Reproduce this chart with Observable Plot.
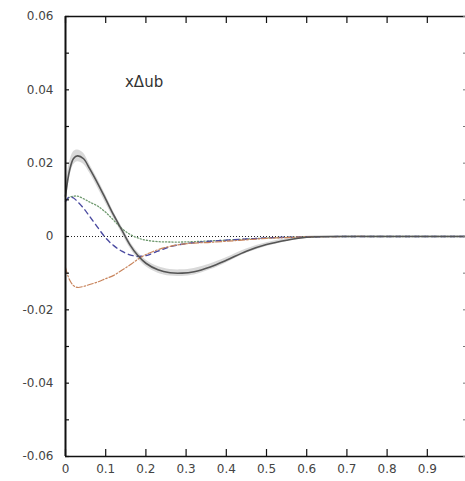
<!DOCTYPE html>
<html>
<head>
<meta charset="utf-8">
<script src="https://cdn.jsdelivr.net/npm/d3@7"></script>
<script src="https://cdn.jsdelivr.net/npm/@observablehq/plot@0.6"></script>
<style>
  html, body { margin: 0; padding: 0; background: #fff; }
  #chart svg { display: block; }
</style>
</head>
<body>
<div id="chart"></div>
<script>
const xs        = [0, 0.01, 0.02, 0.03, 0.045, 0.06, 0.08, 0.1, 0.12, 0.14, 0.16, 0.18, 0.2, 0.23, 0.26, 0.29, 0.32, 0.36, 0.4, 0.45, 0.5, 0.55, 0.6, 0.7, 0.8, 0.9, 1.0];
const total     = [0.011, 0.018, 0.0213, 0.022, 0.0212, 0.0185, 0.0145, 0.0102, 0.0058, 0.0018, -0.0022, -0.0052, -0.0073, -0.0091, -0.0099, -0.0100, -0.0096, -0.0083, -0.0065, -0.0040, -0.0022, -0.0010, -0.0002, 0, 0, 0, 0];
const band      = [0.003, 0.0022, 0.0018, 0.0016, 0.0015, 0.0012, 0.0012, 0.0011, 0.0009, 0.0009, 0.0009, 0.0009, 0.0009, 0.0009, 0.0009, 0.0009, 0.0009, 0.0008, 0.0007, 0.0006, 0.0005, 0.0004, 0.0003, 0.0002, 0.0002, 0.0002, 0.0002];
const dotted    = [0.0100, 0.0107, 0.0110, 0.0110, 0.0103, 0.0094, 0.0083, 0.0066, 0.0044, 0.0022, 0.0006, -0.0004, -0.0010, -0.0014, -0.0015, -0.0015, -0.0014, -0.0012, -0.0010, -0.0007, -0.0004, -0.0002, -0.0001, 0, 0, 0, 0];
const dashed    = [0.0095, 0.0108, 0.0105, 0.0095, 0.0077, 0.0055, 0.0025, -0.0004, -0.0025, -0.0040, -0.0050, -0.0054, -0.0052, -0.0040, -0.0028, -0.0021, -0.0017, -0.0013, -0.0010, -0.0007, -0.0004, -0.0002, -0.0001, 0, 0, 0, 0];
const dashdot   = [-0.0085, -0.0118, -0.0134, -0.0139, -0.0136, -0.0131, -0.0124, -0.0115, -0.0106, -0.0092, -0.0078, -0.0062, -0.0049, -0.0036, -0.0027, -0.0021, -0.0018, -0.0016, -0.0013, -0.0009, -0.0005, -0.0003, -0.0001, 0, 0, 0, 0];

const xTicks = [0, 0.1, 0.2, 0.3, 0.4, 0.5, 0.6, 0.7, 0.8, 0.9];
const xTickLabels = ["0", "0.1", "0.2", "0.3", "0.4", "0.5", "0.6", "0.7", "0.8", "0.9"];
const yTicks = [-0.06, -0.04, -0.02, 0, 0.02, 0.04, 0.06];
const yTickLabels = ["-0.06", "-0.04", "-0.02", "0", "0.02", "0.04", "0.06"];
const yAll = [-0.06, -0.05, -0.04, -0.03, -0.02, -0.01, 0, 0.01, 0.02, 0.03, 0.04, 0.05, 0.06];
const labelText = ["xΔub"];
const labelX = [0.148];
const labelY = [0.042];

const rows = xs.map((x, i) => ({
  x, total: total[i], lo: total[i] - band[i], hi: total[i] + band[i],
  dotted: dotted[i], dashed: dashed[i], dashdot: dashdot[i]
}));
const labels = labelText.map((t, i) => ({t, x: labelX[i], y: labelY[i]}));

const fmtX = d => xTickLabels[xTicks.indexOf(d)];
const fmtY = d => yTickLabels[yTicks.findIndex(v => Math.abs(v - d) < 1e-9)];

const chart = Plot.plot({
  width: 465,
  height: 481,
  marginLeft: 65,
  marginRight: 0,
  marginTop: 16,
  marginBottom: 25,
  style: {fontFamily: "DejaVu Sans, sans-serif", fontSize: "11.5px", color: "#444", background: "#fff"},
  x: {domain: [0, 0.995], label: null},
  y: {domain: [-0.06, 0.06], label: null},
  marks: [
    Plot.areaY(rows, {x: "x", y1: "lo", y2: "hi", fill: "#cfcfcf", fillOpacity: 0.8, curve: "catmull-rom"}),
    Plot.ruleY([0], {stroke: "#222", strokeWidth: 1.2, strokeDasharray: "1,2"}),
    Plot.lineY(rows, {x: "x", y: "dotted", stroke: "#6f9a6f", strokeWidth: 1.3, strokeDasharray: "1.2,2", curve: "catmull-rom"}),
    Plot.lineY(rows, {x: "x", y: "dashed", stroke: "#4a4aa0", strokeWidth: 1.4, strokeDasharray: "5,4", curve: "catmull-rom"}),
    Plot.lineY(rows, {x: "x", y: "dashdot", stroke: "#c8845c", strokeWidth: 1.2, strokeDasharray: "6,2,1.5,2", curve: "catmull-rom"}),
    Plot.lineY(rows, {x: "x", y: "total", stroke: "#555", strokeWidth: 1.6, curve: "catmull-rom"}),
    Plot.ruleX([0], {stroke: "#111", strokeWidth: 2}),
    Plot.ruleY([-0.06, 0.06], {stroke: "#111", strokeWidth: 1.6}),
    Plot.axisX({anchor: "bottom", label: null, ticks: xTicks, tickSize: -7, tickFormat: () => "", stroke: "#111", strokeWidth: 1.2}),
    Plot.axisX({anchor: "bottom", label: null, ticks: xTicks, tickSize: 0, tickPadding: 8, tickFormat: fmtX, fill: "#444", fontSize: 12}),
    Plot.axisX({anchor: "top", label: null, ticks: xTicks, tickSize: -6, tickFormat: () => "", stroke: "#111", strokeWidth: 1.2}),
    Plot.axisY({anchor: "left", label: null, ticks: yAll, tickSize: -4, tickFormat: () => "", stroke: "#111", strokeWidth: 1.2}),
    Plot.axisY({anchor: "left", label: null, ticks: yTicks, tickSize: 0, tickPadding: 12, tickFormat: fmtY, fill: "#444", fontSize: 12}),
    Plot.axisY({anchor: "right", label: null, ticks: yAll, tickSize: -3, tickFormat: () => "", stroke: "#777", strokeWidth: 1}),
    Plot.text(labels, {x: "x", y: "y", text: "t", textAnchor: "start", fontSize: 15, fill: "#333", fontFamily: "DejaVu Sans, sans-serif", style: "letter-spacing:1px"})
  ]
});
document.getElementById("chart").appendChild(chart);
</script>
</body>
</html>
